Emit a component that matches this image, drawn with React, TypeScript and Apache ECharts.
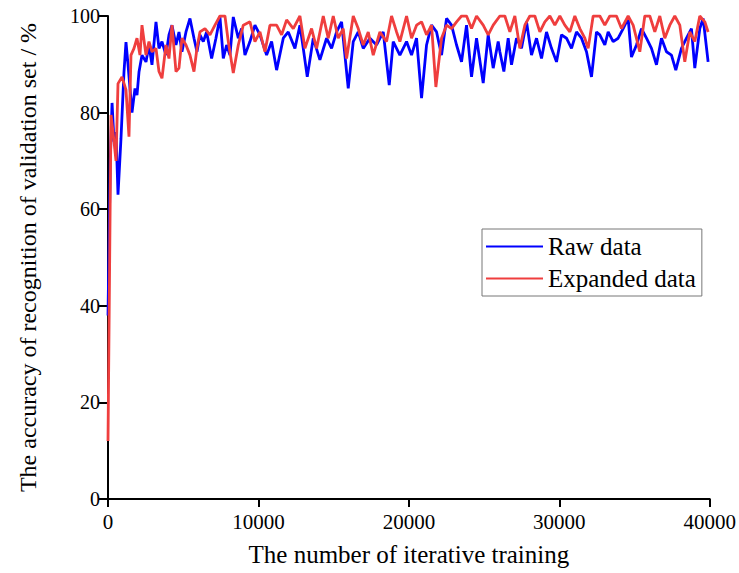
import React, { useEffect, useRef } from "react";
import * as echarts from "echarts";

const xTickValues = [0, 10000, 20000, 30000, 40000];
const yTickValues = [0, 20, 40, 60, 80, 100];

const rawIter = [
  0, 150, 270, 400, 532, 665, 864, 1063, 1196, 1329, 1595, 1794, 1927, 2060, 2259, 2525, 2724, 2924, 3190, 3389,
  3588, 3854, 4053, 4253, 4519, 4718, 4917, 5183, 5449, 5715, 5914, 6113, 6334, 6556, 6889, 7176, 7442, 7664, 7885, 8107,
  8328, 8661, 8882, 9104, 9436, 9768, 10101, 10544, 10876, 11208, 11651, 11984, 12426, 12758, 12980, 13245, 13644, 14087, 14530, 14862,
  15195, 15527, 15970, 16302, 16634, 16967, 17410, 17853, 18296, 18694, 18960, 19403, 19846, 20178, 20511, 20843, 21175, 21507, 21840, 22172,
  22504, 22836, 23169, 23501, 23833, 24165, 24498, 24941, 25273, 25605, 25937, 26048, 26314, 26602, 26823, 27156, 27488, 27820, 28152, 28485,
  28817, 29149, 29481, 29814, 30146, 30478, 30810, 31143, 31475, 31807, 32139, 32472, 32693, 33025, 33247, 33579, 33911, 34244, 34576, 34797,
  35130, 35462, 35794, 36126, 36459, 36791, 37123, 37455, 37743, 38120, 38452, 38784, 39006, 39338, 39560, 39892,
];
const rawAcc = [
  38, 70, 82, 74, 76, 63, 74.7, 88.4, 94.6, 90, 80, 85, 83.6, 88.4, 91.9, 90.5, 94, 89.9, 98.8, 93.3,
  94.7, 91.9, 96.1, 98.1, 94, 96.7, 92.6, 96.7, 99.5, 95.4, 92.6, 96.1, 94.7, 96.7, 91.2, 95.4, 99.8, 91.2, 94, 91.9,
  99.8, 95.4, 97.4, 91.9, 94.7, 98.1, 96.1, 91.9, 94.7, 88.8, 95.4, 96.7, 93.3, 98.1, 93.3, 87.4, 95.4, 90.9, 95.4, 93.3,
  96.7, 98.8, 85, 94.7, 96.7, 93.3, 95.4, 94, 96.7, 85.7, 94.7, 91.9, 94.7, 91.9, 95.4, 83, 94, 98.1, 96.7, 91.9,
  99.5, 98.1, 94, 90.5, 98.1, 87.4, 95.4, 86.1, 96.1, 89.2, 94.7, 92.6, 88.5, 95.4, 89.9, 95.4, 93.3, 98.8, 91.9, 95.4,
  91.2, 96.7, 93.3, 90.5, 96.1, 95.4, 93.3, 96.7, 95.4, 92.6, 87.4, 96.7, 96.1, 94, 96.7, 94.7, 95.4, 97.4, 99.5, 91.5,
  94, 97.4, 95.4, 93.3, 89.9, 95.4, 92.6, 91.9, 88.8, 93.3, 95.4, 97.4, 89.2, 97.4, 99.5, 90.5,
];

const expIter = [
  0, 199, 332, 532, 665, 930, 1196, 1395, 1528, 1728, 1927, 2126, 2259, 2525, 2724, 2924, 3190, 3389, 3588, 3854,
  4053, 4253, 4519, 4718, 4917, 5183, 5449, 5715, 5914, 6113, 6446, 6778, 7110, 7442, 7775, 7996, 8328, 8661, 8993, 9436,
  9768, 10101, 10433, 10765, 11208, 11541, 11873, 12316, 12758, 13090, 13533, 13866, 14309, 14641, 14973, 15305, 15638, 15859, 16302, 16634,
  16967, 17299, 17631, 18074, 18517, 18849, 19182, 19403, 19846, 20178, 20511, 20843, 21175, 21507, 21795, 22172, 22504, 22836, 23169, 23501,
  23833, 24165, 24498, 24941, 25273, 25605, 26048, 26380, 26713, 27045, 27377, 27709, 28042, 28374, 28706, 29038, 29371, 29703, 30035, 30367,
  30700, 31032, 31364, 31696, 31918, 32250, 32693, 33025, 33358, 33800, 34133, 34576, 34908, 35351, 35683, 36015, 36348, 36680, 37012, 37344,
  37677, 38009, 38341, 38673, 39006, 39338, 39670, 39892,
];
const expAcc = [
  12, 79.5, 76, 70, 86, 87.4, 84.7, 75, 91.9, 93.3, 95.4, 91.9, 98.1, 91.9, 94.7, 92.6, 93.3, 88.5, 87.1, 94,
  91.2, 98.1, 88.5, 89.2, 95.4, 94, 91.9, 88.5, 93.3, 96.7, 97.4, 96.1, 98.1, 100, 100, 94.7, 88.2, 94, 98.1, 98.8,
  94.7, 96.7, 92.6, 98.1, 98.1, 96.1, 99.2, 97.4, 100, 93.3, 97.4, 93.3, 100, 95.4, 100, 95.4, 97.4, 91.2, 100, 97.4,
  94, 96.7, 91.9, 96.7, 94.7, 100, 96.7, 94.7, 100, 95.4, 98.1, 98.8, 96.1, 98.1, 85.3, 95.4, 98.1, 97.4, 98.8, 100,
  100, 97.4, 100, 98.1, 96.1, 98.1, 100, 100, 96.7, 100, 93.3, 98.1, 100, 100, 96.7, 98.8, 100, 98.1, 100, 98.1,
  96.7, 100, 97.4, 95.4, 93.3, 100, 100, 98.1, 100, 100, 97.4, 100, 98.1, 92.6, 100, 100, 96.7, 100, 95.4, 98.1,
  100, 98.1, 90.5, 96.7, 94.7, 100, 98.8, 96.7,
];

const seriesNames = ["Raw data", "Expanded data"];
const xTitle = "The number of iterative training";
const yTitle = "The accuracy of recognition of validation set / %";

export default function App() {
  const ref = useRef<HTMLDivElement>(null);
  useEffect(() => {
    if (!ref.current) return;
    const chart = echarts.init(ref.current, null, { renderer: "svg" });
    const font = "Liberation Serif";
    const zip = (xs: number[], ys: number[]) => xs.map((x, i) => [x, ys[i]]);
    chart.setOption({
      animation: false,
      backgroundColor: "#ffffff",
      textStyle: { fontFamily: font },
      grid: { left: 108, right: 29, top: 16, bottom: 74 },
      legend: {
        orient: "vertical",
        left: 482,
        top: 229,
        data: seriesNames,
        icon: "rect",
        itemWidth: 57,
        itemHeight: 2,
        itemGap: 7,
        textStyle: { fontFamily: font, fontSize: 25, lineHeight: 24, color: "#000" },
        borderColor: "#777",
        borderWidth: 1,
        borderRadius: 0,
        padding: [5, 6, 5, 4],
      },
      xAxis: {
        type: "value",
        min: xTickValues[0],
        max: xTickValues[xTickValues.length - 1],
        interval: xTickValues[1] - xTickValues[0],
        name: xTitle,
        nameLocation: "middle",
        nameGap: 43,
        nameTextStyle: { fontFamily: font, fontSize: 25, color: "#000" },
        axisLine: { show: true, lineStyle: { color: "#000", width: 2 } },
        axisTick: { show: true, inside: false, length: 8, lineStyle: { color: "#000", width: 2 } },
        axisLabel: {
          color: "#000",
          fontFamily: font,
          fontSize: 21,
          margin: 12,
          formatter: (v: number) => String(v),
        },
        splitLine: { show: false },
      },
      yAxis: {
        type: "value",
        min: yTickValues[0],
        max: yTickValues[yTickValues.length - 1],
        interval: yTickValues[1] - yTickValues[0],
        name: yTitle,
        nameLocation: "middle",
        nameGap: 68,
        nameTextStyle: { fontFamily: font, fontSize: 24, color: "#000" },
        axisLine: { show: true, lineStyle: { color: "#000", width: 2 } },
        axisTick: { show: true, inside: false, length: 9, lineStyle: { color: "#000", width: 2 } },
        axisLabel: {
          color: "#000",
          fontFamily: font,
          fontSize: 20,
          margin: 8,
          formatter: (v: number) => String(v),
        },
        splitLine: { show: false },
      },
      series: [
        {
          name: seriesNames[0],
          type: "line",
          data: zip(rawIter, rawAcc),
          showSymbol: false,
          symbol: "none",
          color: "#0000ff",
          lineStyle: { width: 2.8, color: "#0000ff" },
          z: 2,
        },
        {
          name: seriesNames[1],
          type: "line",
          data: zip(expIter, expAcc),
          showSymbol: false,
          symbol: "none",
          color: "#ef3e3e",
          lineStyle: { width: 2.8, color: "#ef3e3e" },
          z: 3,
        },
      ],
    });
    return () => chart.dispose();
  }, []);
  return (
    <div
      ref={ref}
      style={{ position: "fixed", left: 0, top: 0, width: 739, height: 573, background: "#fff" }}
    />
  );
}
